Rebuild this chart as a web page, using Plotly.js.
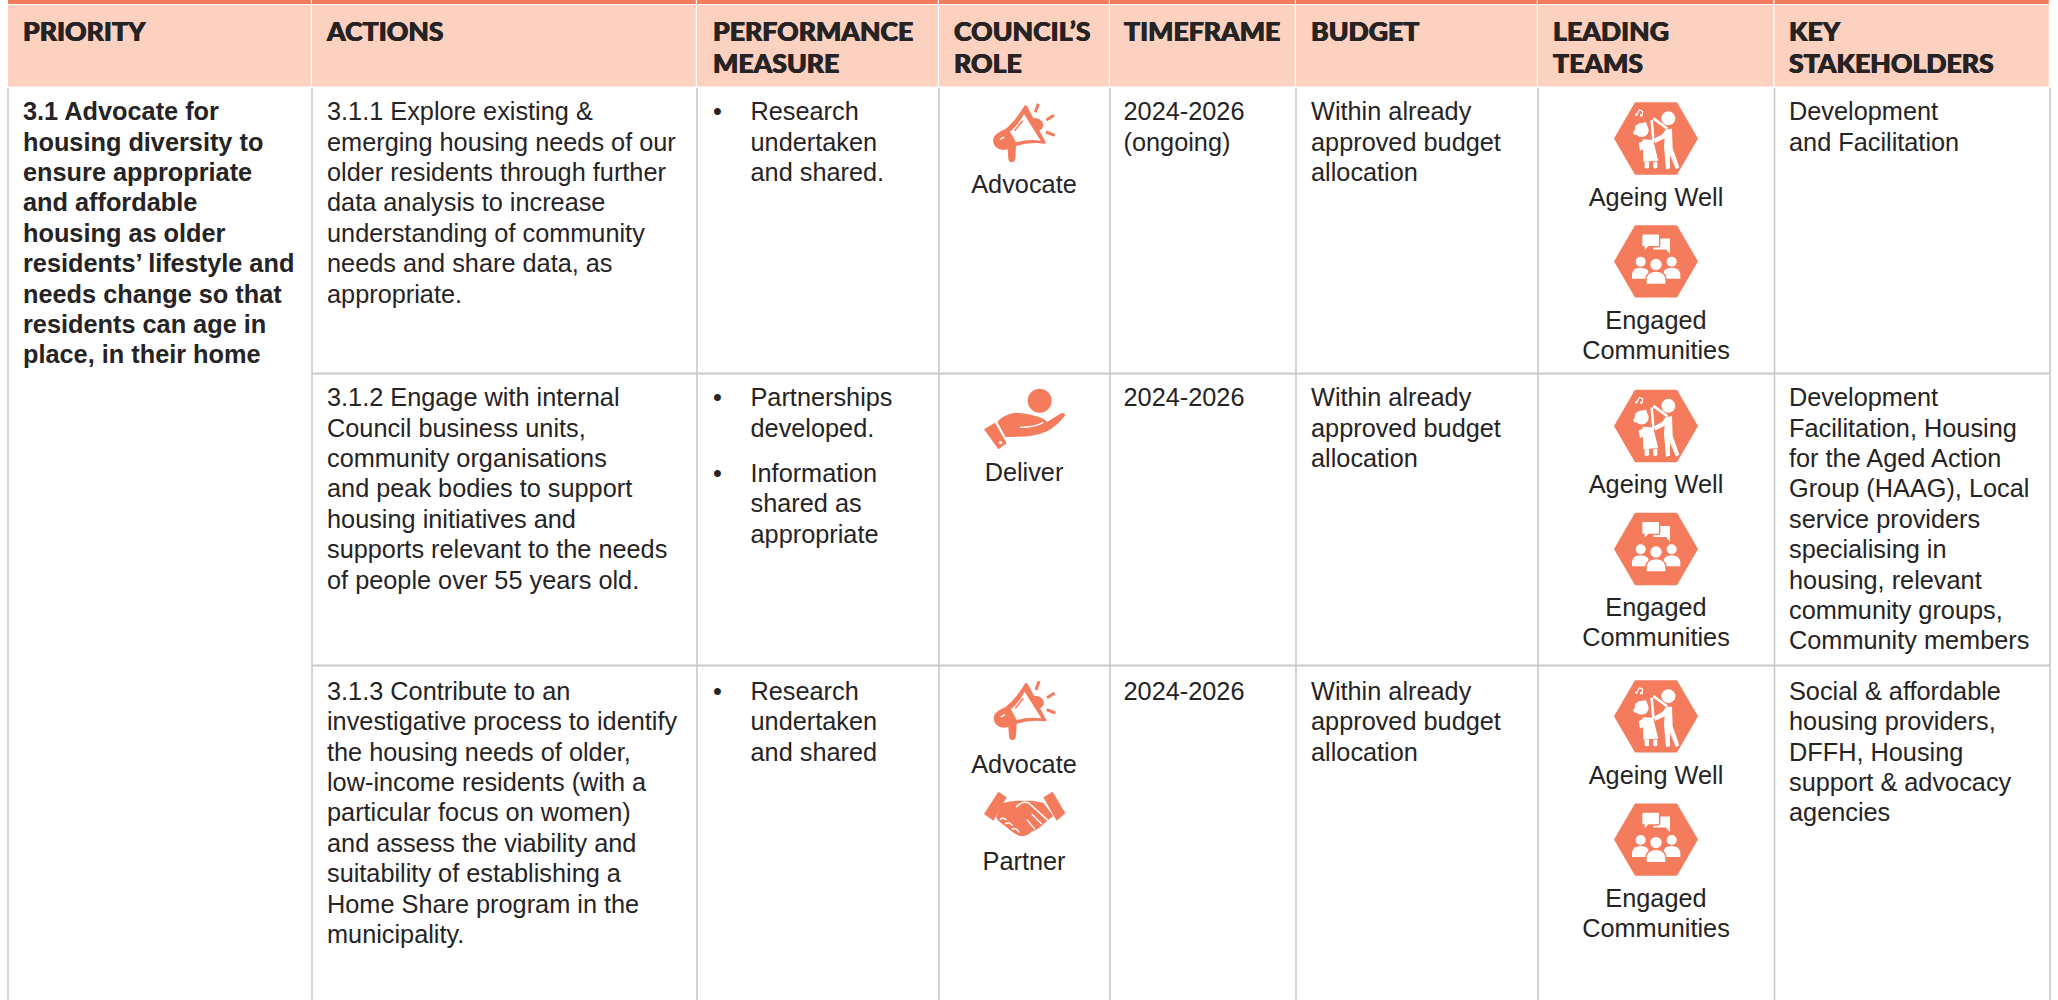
<!DOCTYPE html>
<html><head><meta charset="utf-8">
<script src="https://cdn.plot.ly/plotly-3.0.1.min.js"></script>
<style>html,body{margin:0;padding:0;background:#fff}#c{width:2058px;height:1000px}</style></head>
<body><div id="c"></div>
<script>
// ---------- table content ----------
const headers = [["PRIORITY"],["ACTIONS"],["PERFORMANCE","MEASURE"],["COUNCIL’S","ROLE"],["TIMEFRAME"],["BUDGET"],["LEADING","TEAMS"],["KEY","STAKEHOLDERS"]];
const priority = ["3.1 Advocate for","housing diversity to","ensure appropriate","and affordable","housing as older","residents’ lifestyle and","needs change so that","residents can age in","place, in their home"];
const actions = [
 ["3.1.1 Explore existing &","emerging housing needs of our","older residents through further","data analysis to increase","understanding of community","needs and share data, as","appropriate."],
 ["3.1.2 Engage with internal","Council business units,","community organisations","and peak bodies to support","housing initiatives and","supports relevant to the needs","of people over 55 years old."],
 ["3.1.3 Contribute to an","investigative process to identify","the housing needs of older,","low-income residents (with a","particular focus on women)","and assess the viability and","suitability of establishing a","Home Share program in the","municipality."]];
const measures = [
 [["Research","undertaken","and shared."]],
 [["Partnerships","developed."],["Information","shared as","appropriate"]],
 [["Research","undertaken","and shared"]]];
const timeframes = [["2024-2026","(ongoing)"],["2024-2026"],["2024-2026"]];
const budgets = [["Within already","approved budget","allocation"],["Within already","approved budget","allocation"],["Within already","approved budget","allocation"]];
const roles = [["Advocate"],["Deliver"],["Advocate","Partner"]];
const teams = ["Ageing Well",["Engaged","Communities"]];
const stakeholders = [
 ["Development","and Facilitation"],
 ["Development","Facilitation, Housing","for the Aged Action","Group (HAAG), Local","service providers","specialising in","housing, relevant","community groups,","Community members"],
 ["Social & affordable","housing providers,","DFFH, Housing","support & advocacy","agencies"]];

// ---------- layout geometry ----------
const colEdges = [8,312,697,939,1110,1296,1538,1774.5,2050];
const rowEdges = [87,373.5,665.5,1000];
const headerTextX = [23,327,713,954,1124,1311,1553,1789];
const bodyX = {priority:23,actions:327,bullet:713,measure:750.5,time:1123.5,budget:1311,stake:1789};
const firstBase = [121.5,407.5,701];
const lh = 30.4, bodySize = 25.3, headSize = 26.6;
const ORANGE = "#F47B5C", PEACH = "#FDD1BF", INK = "#262324", RULE = "#C9C9C9";

// ---------- text traces ----------
const left = {x:[],y:[],t:[]}, bold = {x:[],y:[],t:[]}, head = {x:[],y:[],t:[]}, mid = {x:[],y:[],t:[]};
const put = (g,x,base,t,size) => { g.x.push(x); g.y.push(base-0.3*size); g.t.push(t); };
const block = (g,x,base,lines,size) => lines.forEach((t,i)=>put(g,x,base+i*lh,t,size));
headers.forEach((ls,i)=>ls.forEach((t,j)=>put(head,headerTextX[i],42+j*32,t,headSize)));
block(bold,bodyX.priority,firstBase[0],priority,bodySize);
actions.forEach((ls,r)=>block(left,bodyX.actions,firstBase[r],ls,bodySize));
measures.forEach((items,r)=>{
  let base = firstBase[r];
  items.forEach(ls=>{ put(left,bodyX.bullet,base,"•",bodySize); block(left,bodyX.measure,base,ls,bodySize); base += ls.length*lh+15; });
});
timeframes.forEach((ls,r)=>block(left,bodyX.time,firstBase[r],ls,bodySize));
budgets.forEach((ls,r)=>block(left,bodyX.budget,firstBase[r],ls,bodySize));
stakeholders.forEach((ls,r)=>block(left,bodyX.stake,firstBase[r],ls,bodySize));
const roleBase = [[194.5],[482],[774,871]];
roles.forEach((ls,r)=>ls.forEach((t,i)=>put(mid,1024,roleBase[r][i],t,bodySize)));
const teamBase = [[207,330,360],[494,617,647],[785,908,938]];
teamBase.forEach(b=>{ put(mid,1656,b[0],teams[0],bodySize); put(mid,1656,b[1],teams[1][0],bodySize); put(mid,1656,b[2],teams[1][1],bodySize); });
const tr = (g,pos,size,fam,weight,extra)=>({type:"scatter",mode:"text",x:g.x,y:g.y,text:g.t,textposition:pos,cliponaxis:false,hoverinfo:"skip",showlegend:false,
  textfont:Object.assign({family:fam,size:size,color:INK,weight:weight},extra||{})});
const BODY = "Liberation Sans, Arial, sans-serif";
const traces = [tr(left,"middle right",bodySize,BODY,400),tr(bold,"middle right",bodySize,BODY,700),tr(mid,"middle center",bodySize,BODY,400),
  tr(head,"middle right",headSize,"Lato, sans-serif",900,{shadow:"0.5px 0 0 #262324, -0.4px 0 0 #262324"})];

// ---------- grid ----------
const shapes = [];
const rect = (x0,y0,x1,y1,c)=>shapes.push({type:"rect",xref:"x",yref:"y",x0,y0,x1,y1,fillcolor:c,line:{width:0},layer:"below"});
const seg = (x0,y0,x1,y1,c,w)=>shapes.push({type:"line",xref:"x",yref:"y",x0,y0,x1,y1,line:{color:c,width:w},layer:"below"});
for(let i=0;i<8;i++){ rect(colEdges[i],0,colEdges[i+1]-1.2,4,ORANGE); rect(colEdges[i],5,colEdges[i+1]-1.2,86.5,PEACH); }
colEdges.forEach(x=>seg(x,88,x,1000,RULE,1.6));
seg(colEdges[1],rowEdges[1],colEdges[8],rowEdges[1],RULE,2);
seg(colEdges[1],rowEdges[2],colEdges[8],rowEdges[2],RULE,2);

// ---------- icons: drawn in 3x crop units, then scaled and placed ----------
const W="#FFFFFF";
const pathIn=(d,ox,oy)=>{let n=0;return d.replace(/-?\d+(\.\d+)?/g,m=>(n++%2===0?(ox+(+m)/3):(oy+(+m)/3)).toFixed(2));};
const draw=(items,ox,oy)=>items.forEach(it=>{
  if(it.c){ const [cx,cy,r]=it.c; shapes.push({type:"circle",xref:"x",yref:"y",x0:ox+(cx-r)/3,x1:ox+(cx+r)/3,y0:oy+(cy-r)/3,y1:oy+(cy+r)/3,fillcolor:it.f,line:{width:0}}); }
  else shapes.push({type:"path",xref:"x",yref:"y",path:pathIn(it.d,ox,oy),fillcolor:it.f||"rgba(0,0,0,0)",line:it.s?{color:it.s,width:it.w}:{width:0}});
});
const megaphone=[
 {f:ORANGE,d:"M224 46 Q230 45 233 52 L250 84 Q272 84 279 100 Q282 115 268 122 L287 156 Q289 162 282 161 Q240 155 198 168 L196 205 Q194 218 184 217 Q175 216 175 205 L173 178 Q150 184 138 172 Q124 158 132 140 Q140 128 165 118 Q195 95 224 46 Z"},
 {f:W,d:"M222 72 Q205 105 180 125 Q190 140 198 157 Q235 147 272 152 Z"},
 {s:ORANGE,w:1.6,d:"M218 92 L194 122"},
 {s:W,w:1.5,d:"M150 148 L163 141"},
 {s:ORANGE,w:3,d:"M265 41 L256 67"},{s:ORANGE,w:3,d:"M312 76 L289 90"},{s:ORANGE,w:3,d:"M288 126 L314 136"}];
const hand=[
 {f:ORANGE,c:[239,62,36]},
 {f:ORANGE,d:"M72 148 L105 128 L140 190 L115 208 Z"},
 {f:W,c:[122,188,5]},
 {f:ORANGE,d:"M112 126 Q130 103 165 98 Q215 100 250 116 Q258 122 262 125 L305 99 Q318 97 314 108 Q290 140 258 155 Q215 172 165 170 L137 172 Z"},
 {s:W,w:1.4,d:"M180 142 Q225 142 250 127"}];
const shake=[
 {f:ORANGE,d:"M72 432 L115 365 L140 382 L100 452 Z"},
 {f:ORANGE,d:"M250 382 L278 365 L316 430 L290 452 Z"},
 {f:ORANGE,d:"M126 400 Q150 392 172 392 L215 392 L250 398 L280 438 L250 462 Q235 480 215 485 Q200 500 180 498 Q160 490 150 480 L115 452 L108 440 Z"},
 {s:W,w:1.6,d:"M168 412 Q185 392 205 398 L268 455"},
 {s:W,w:1.4,d:"M120 448 Q130 440 140 450 M135 462 Q148 452 158 468 M155 478 Q168 470 178 488"},
 {s:W,w:1.4,d:"M215 432 L245 462 M200 448 L225 478"}];
// figure coordinates: 3x units, x measured from the hexagon's left corner
const dancers=[
 {f:W,c:[163,85,21]},
 {f:W,d:"M156 118 L174 116 L176 175 L196 232 L186 238 L168 195 L168 235 L156 238 L150 170 L152 145 L106 168 L100 158 L146 132 Z"},
 {s:W,w:2.6,d:"M160 116 L118 85"},
 {s:W,w:2.6,d:"M113 90 L118 150"},
 {f:W,c:[83,120,21]},{f:W,c:[70,112,7]},{f:W,c:[92,104,7]},{f:W,c:[65,128,7]},
 {f:W,d:"M86 148 L118 150 L133 212 L88 215 Z"},
 {s:ORANGE,w:1,d:"M120 152 L135 212"},
 {f:W,d:"M74 160 L92 150 L98 172 L78 182 Z"},
 {f:W,d:"M92 215 L105 215 L105 233 Q99 238 92 233 Z M118 215 L130 215 L130 233 Q124 238 118 233 Z"},
 {s:W,w:1.1,d:"M70 72 L76 60 L86 64 L85 74"},
 {f:W,c:[67,74,4]},{f:W,c:[82,76,4]}];
const people=[
 {f:W,d:"M118 445 L168 445 L168 492 L156 478 L118 478 Z"},
 {f:W,s:ORANGE,w:1.4,d:"M88 431 L132 431 Q137 431 137 436 L137 466 Q137 470 132 470 L104 470 L90 486 L90 470 L88 470 Q83 470 83 466 L83 436 Q83 431 88 431 Z"},
 {f:W,c:[80,515,15]},{f:W,c:[173,515,15]},
 {f:W,d:"M54 566 L54 552 Q58 533 80 533 Q102 533 106 552 L106 566 Z"},
 {f:W,d:"M147 566 L147 552 Q151 533 173 533 Q195 533 199 552 L199 566 Z"},
 {f:W,s:ORANGE,w:1.4,d:"M96 583 L96 566 Q100 543 126 543 Q152 543 156 566 L156 583 Z"},
 {f:W,c:[126,523,17]}];
const placeHex=(cy,figure,refCy)=>{
  draw([{f:ORANGE,d:"M63 0 L189 0 L252 108.5 L189 217 L63 217 L0 108.5 Z"}],1614,cy-36.17);
  draw(figure,1614,cy-refCy/3);
};
[[138.5,261.4],[426,549],[716.3,839.6]].forEach(([a,b])=>{ placeHex(a,dancers,145.5); placeHex(b,people,514); });
draw(megaphone,950,90); draw(hand,960,380); draw(megaphone,950.67,667.67); draw(shake,960,670);

const layout={width:2058,height:1000,margin:{l:0,r:0,t:0,b:0},paper_bgcolor:"#fff",plot_bgcolor:"#fff",showlegend:false,
 xaxis:{range:[0,2058],visible:false,fixedrange:true},yaxis:{range:[1000,0],visible:false,fixedrange:true},shapes};
Plotly.newPlot("c",traces,layout,{displayModeBar:false,staticPlot:true});
</script></body></html>
